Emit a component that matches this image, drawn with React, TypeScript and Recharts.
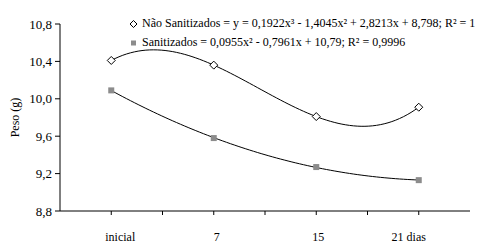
import React from 'react';
import { LineChart, Line, XAxis, YAxis, Legend } from 'recharts';

// --- Data ---
const categories = ['inicial', '7', '15', '21 dias'];
const naoSanitizados = [10.41, 10.36, 9.81, 9.91];
const sanitizados = [10.09, 9.58, 9.27, 9.13];
const yTicks = [8.8, 9.2, 9.6, 10.0, 10.4, 10.8];
const xTicks = [1, 1.5, 2, 2.5, 3, 3.5, 4];

const legendNao = 'Não Sanitizados = y = 0,1922x³ - 1,4045x² + 2,8213x + 8,798; R² = 1';
const legendSan = 'Sanitizados = 0,0955x² - 0,7961x + 10,79; R² = 0,9996';

const data = categories.map((label, i) => ({
    x: i + 1,
    label,
    nao: naoSanitizados[i],
    san: sanitizados[i],
}));

const FONT = 'Liberation Serif, Times New Roman, Times, serif';
// the category labels sit a little off their tick marks in the original
const LABEL_SHIFT = [9, 3, 2, -10];

// --- Trendline curve (least squares polynomial, like a spreadsheet trendline) ---
function fitPoly(xs: number[], ys: number[], degree: number) {
    const n = degree + 1;
    const A: number[][] = [];
    for (let r = 0; r < n; r++) {
        const row: number[] = [];
        for (let c = 0; c < n; c++) {
            row.push(xs.reduce((s, x) => s + Math.pow(x, r + c), 0));
        }
        row.push(xs.reduce((s, x, i) => s + Math.pow(x, r) * ys[i], 0));
        A.push(row);
    }
    for (let i = 0; i < n; i++) {
        let p = i;
        for (let k = i + 1; k < n; k++) if (Math.abs(A[k][i]) > Math.abs(A[p][i])) p = k;
        [A[i], A[p]] = [A[p], A[i]];
        for (let k = i + 1; k < n; k++) {
            const f = A[k][i] / A[i][i];
            for (let c = i; c <= n; c++) A[k][c] -= f * A[i][c];
        }
    }
    const coef = new Array(n).fill(0);
    for (let i = n - 1; i >= 0; i--) {
        let s = A[i][n];
        for (let c = i + 1; c < n; c++) s -= A[i][c] * coef[c];
        coef[i] = s / A[i][i];
    }
    return coef;
}

const trendCurve = (degree: number) => (context: any) => {
    let pts: number[][] = [];
    return {
        areaStart() {},
        areaEnd() {},
        lineStart() {
            pts = [];
        },
        point(x: number, y: number) {
            pts.push([+x, +y]);
        },
        lineEnd() {
            if (pts.length < 2) return;
            const x0 = pts[0][0];
            const span = pts[pts.length - 1][0] - x0 || 1;
            const coef = fitPoly(pts.map((p) => (p[0] - x0) / span), pts.map((p) => p[1]), degree);
            const steps = 80;
            for (let i = 0; i <= steps; i++) {
                const u = i / steps;
                const y = coef.reduce((s, c, k) => s + c * Math.pow(u, k), 0);
                const x = x0 + u * span;
                if (i === 0) context.moveTo(x, y);
                else context.lineTo(x, y);
            }
        },
    };
};

// --- Markers ---
const Diamond = ({ cx, cy, size = 4 }: any) => (
    <path
        d={`M${cx},${cy - size}L${cx + size},${cy}L${cx},${cy + size}L${cx - size},${cy}Z`}
        fill="#ffffff"
        stroke="#000000"
        strokeWidth={1}
    />
);

const Square = ({ cx, cy, size = 3 }: any) => (
    <rect x={cx - size} y={cy - size} width={size * 2} height={size * 2} fill="#8c8c8c" />
);

const renderDiamond = (props: any) => <Diamond key={`d-${props.index}`} cx={props.cx} cy={props.cy} />;
const renderSquare = (props: any) => <Square key={`s-${props.index}`} cx={props.cx} cy={props.cy} />;

const LegendContent = () => (
    <div style={{ fontFamily: FONT, fontSize: 12, color: '#000', whiteSpace: 'nowrap', lineHeight: '19px' }}>
        <div style={{ display: 'flex', alignItems: 'center' }}>
            <svg width={11} height={10} style={{ marginRight: 2 }}>
                <Diamond cx={4.5} cy={5} size={3.5} />
            </svg>
            {legendNao}
        </div>
        <div style={{ display: 'flex', alignItems: 'center' }}>
            <svg width={11} height={10} style={{ marginRight: 2 }}>
                <Square cx={4.5} cy={5} size={2.5} />
            </svg>
            {legendSan}
        </div>
    </div>
);

const XTick = ({ x, y, payload }: any) => {
    const v = payload.value;
    if (!Number.isInteger(v)) return null;
    const i = v - 1;
    return (
        <text x={x + LABEL_SHIFT[i]} y={y} dy="0.71em" textAnchor="middle" fontFamily={FONT} fontSize={12} fill="#000">
            {categories[i]}
        </text>
    );
};

const YLabel = ({ viewBox }: any) => {
    const x = viewBox.x + 15;
    const y = viewBox.y + viewBox.height / 2;
    return (
        <text
            x={x}
            y={y}
            transform={`rotate(-90 ${x} ${y})`}
            textAnchor="middle"
            dominantBaseline="central"
            fontFamily={FONT}
            fontSize={12}
            fill="#000"
        >
            Peso (g)
        </text>
    );
};

export default function App() {
    const yTick = { fill: '#000', fontFamily: FONT, fontSize: 13 };
    return (
        <div style={{ position: 'absolute', left: 0, top: 0, width: 478, height: 244, background: '#fff', overflow: 'hidden' }}>
            <LineChart width={478} height={244} data={data} margin={{ top: 24, right: 8, left: 0, bottom: 0 }}>
                <XAxis
                    type="number"
                    dataKey="x"
                    domain={[0.5, 4.5]}
                    ticks={xTicks}
                    interval={0}
                    tick={<XTick />}
                    stroke="#000"
                    tickSize={4}
                    tickMargin={17}
                    height={33}
                />
                <YAxis
                    type="number"
                    domain={[8.8, 10.8]}
                    ticks={yTicks}
                    interval={0}
                    tickFormatter={(v: number) => v.toFixed(1).replace('.', ',')}
                    tick={yTick}
                    stroke="#000"
                    tickSize={5}
                    tickMargin={3}
                    width={60}
                    label={YLabel}
                />
                <Legend
                    layout="vertical"
                    align="center"
                    verticalAlign="middle"
                    content={LegendContent}
                    wrapperStyle={{ left: 129, top: 14, width: 'auto' }}
                />
                <Line
                    dataKey="nao"
                    name="Não Sanitizados"
                    type={trendCurve(3) as any}
                    stroke="#000"
                    strokeWidth={1}
                    dot={renderDiamond}
                    activeDot={false}
                    isAnimationActive={false}
                />
                <Line
                    dataKey="san"
                    name="Sanitizados"
                    type={trendCurve(2) as any}
                    stroke="#000"
                    strokeWidth={1}
                    dot={renderSquare}
                    activeDot={false}
                    isAnimationActive={false}
                />
            </LineChart>
        </div>
    );
}
